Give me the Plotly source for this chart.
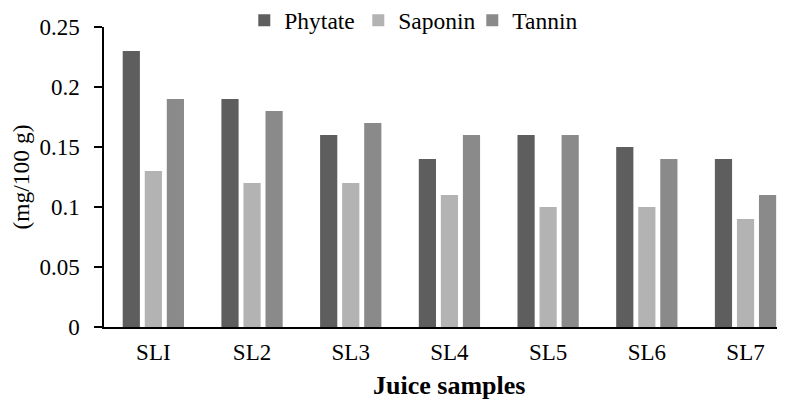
import plotly.graph_objects as go

categories = ["SLI", "SL2", "SL3", "SL4", "SL5", "SL6", "SL7"]
phytate = [0.23, 0.19, 0.16, 0.14, 0.16, 0.15, 0.14]
saponin = [0.13, 0.12, 0.12, 0.11, 0.10, 0.10, 0.09]
tannin = [0.19, 0.18, 0.17, 0.16, 0.16, 0.14, 0.11]

series_names = ["Phytate", "Saponin", "Tannin"]
colors = ["#5E5E5E", "#B3B3B3", "#8A8A8A"]

FONT = "Liberation Serif"

fig = go.Figure()
for name, vals, col in zip(series_names, [phytate, saponin, tannin], colors):
    fig.add_trace(go.Bar(x=categories, y=vals, name=name, marker=dict(color=col, line=dict(width=0))))

fig.update_layout(
    width=777, height=392,
    margin=dict(l=96, r=0, t=18.7, b=73.3, autoexpand=False),
    paper_bgcolor="white", plot_bgcolor="white",
    barmode="group", bargap=0.33, bargroupgap=0.22,
    font=dict(family=FONT, size=23, color="black"),
    showlegend=True,
    legend=dict(orientation="h", x=0.206, xanchor="left", y=1.022, yanchor="middle",
                font=dict(family=FONT, size=23.5, color="black"),
                bgcolor="rgba(0,0,0,0)", itemwidth=30, entrywidth=69, entrywidthmode="pixels"),
    xaxis=dict(range=[-0.5, 6.4], showline=True, linecolor="black", linewidth=2,
               ticks="", showgrid=False, zeroline=False, automargin=False,
               tickfont=dict(family=FONT, size=23, color="black"), ticklabelstandoff=3),
    yaxis=dict(range=[0, 0.25], dtick=0.05, tick0=0, showline=True, linecolor="black", linewidth=1.5,
               ticks="outside", ticklen=8, tickwidth=1.5, tickcolor="black",
               showgrid=False, zeroline=False, automargin=False, ticklabelstandoff=10,
               tickfont=dict(family=FONT, size=23, color="black"),
               title=dict(text="(mg/100 g)", font=dict(family=FONT, size=23.5, color="black"), standoff=12)),
    annotations=[dict(text="<b>Juice samples</b>", xref="paper", yref="paper",
                      x=0.5066, y=-0.194, xanchor="center", yanchor="middle", showarrow=False,
                      font=dict(family=FONT, size=26, color="black"))],
)

fig.write_html("out.html")
